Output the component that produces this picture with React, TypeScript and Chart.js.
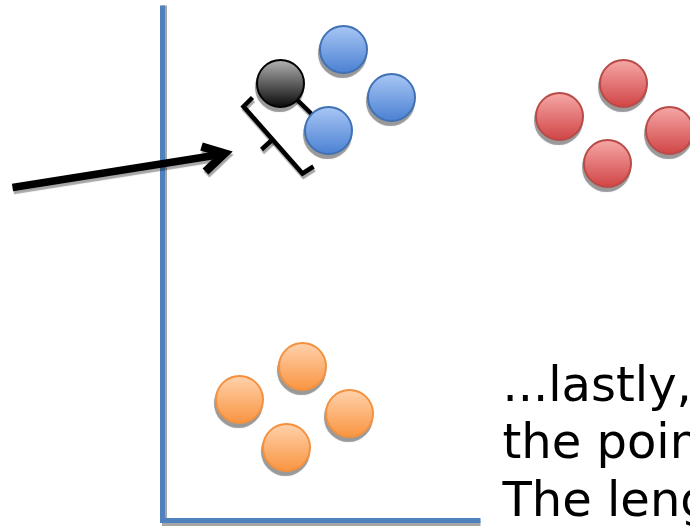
import React, { useEffect, useRef } from "react";
import { Chart, registerables } from "chart.js";

Chart.register(...registerables);

// Data space: origin at the corner of the drawn axes, 1 unit = 10 px
const xRange = [-16.2, 52.8];
const yRange = [-0.9, 52.0];

const bluePoints = [
  { x: 18.1, y: 47.1 },
  { x: 22.9, y: 42.3 },
  { x: 16.6, y: 39.0 },
];
const blackPoints = [{ x: 11.8, y: 43.7 }];
const redPoints = [
  { x: 46.1, y: 43.7 },
  { x: 39.7, y: 40.4 },
  { x: 50.7, y: 39.0 },
  { x: 44.5, y: 35.7 },
];
const orangePoints = [
  { x: 14.0, y: 15.4 },
  { x: 7.7, y: 12.1 },
  { x: 18.7, y: 10.7 },
  { x: 12.4, y: 7.3 },
];
const distanceLine = [
  { x: 11.8, y: 43.7 },
  { x: 16.6, y: 39.0 },
];
const bracketLine = [
  { x: 9.0, y: 42.3 },
  { x: 8.1, y: 41.4 },
  { x: 14.0, y: 34.7 },
  { x: 15.1, y: 35.4 },
];
const bracketTick = [
  { x: 11.0, y: 38.1 },
  { x: 9.9, y: 37.1 },
];
const arrowShaft = [
  { x: -15.0, y: 33.3 },
  { x: 5.8, y: 36.6 },
];
const arrowHead = [
  { x: 3.9, y: 37.4 },
  { x: 6.2, y: 36.7 },
  { x: 4.3, y: 34.9 },
];
const axisYTop = 51.5;
const axisXEnd = 31.8;
const textX = 34.0;
const textLines = ["...lastly,", "the poin", "The leng"];
const textBaselines = [12.0, 6.3, 0.5];

// Chart.js reserves room for the point radius when scales are hidden;
// the canvas is made larger by this amount and shifted so the plot area fills the view.
const PAD = 25.5;
const W = 690;
const H = 529;

const gradientFill = (top: string, bottom: string, fallback: string) => (c: any) => {
  const chart = c.chart;
  if (c.type !== "data" || !chart.chartArea || !chart.scales.y) return fallback;
  const py = chart.scales.y.getPixelForValue(c.parsed ? c.parsed.y : c.raw.y);
  if (!isFinite(py)) return fallback;
  const g = chart.ctx.createLinearGradient(0, py - 24, 0, py + 24);
  g.addColorStop(0, top);
  g.addColorStop(1, bottom);
  return g;
};

const decorPlugin = {
  id: "decor",
  beforeDatasetsDraw(chart: any) {
    const ctx = chart.ctx;
    const xs = chart.scales.x;
    const ys = chart.scales.y;
    const x0 = xs.getPixelForValue(0);
    const y0 = ys.getPixelForValue(0);
    const yt = ys.getPixelForValue(axisYTop);
    const xe = xs.getPixelForValue(axisXEnd);
    ctx.save();
    ctx.lineWidth = 5;
    ctx.lineCap = "butt";
    ctx.strokeStyle = "#a6a6a6";
    ctx.beginPath();
    ctx.moveTo(x0 + 2, yt);
    ctx.lineTo(x0 + 2, y0 + 3);
    ctx.lineTo(xe, y0 + 3);
    ctx.stroke();
    ctx.strokeStyle = "#4f81bd";
    ctx.beginPath();
    ctx.moveTo(x0, yt);
    ctx.lineTo(x0, y0);
    ctx.lineTo(xe, y0);
    ctx.stroke();
    ctx.restore();
  },
  beforeDatasetDraw(chart: any, args: any) {
    const ctx = chart.ctx;
    const ds = chart.data.datasets[args.index];
    if (ds.kind === "point") {
      ctx.save();
      ctx.fillStyle = "rgba(0,0,0,0.33)";
      ctx.shadowColor = "rgba(0,0,0,0.33)";
      ctx.shadowBlur = 2;
      args.meta.data.forEach((el: any) => {
        ctx.beginPath();
        ctx.arc(el.x - 1, el.y + 4, 24.5, 0, Math.PI * 2);
        ctx.fill();
      });
      ctx.restore();
      ctx.save();
    } else {
      ctx.save();
      ctx.shadowColor = "rgba(0,0,0,0.35)";
      ctx.shadowOffsetX = 1;
      ctx.shadowOffsetY = 3;
      ctx.shadowBlur = 1;
    }
  },
  afterDatasetDraw(chart: any) {
    chart.ctx.restore();
  },
  afterDatasetsDraw(chart: any) {
    const ctx = chart.ctx;
    const xs = chart.scales.x;
    const ys = chart.scales.y;
    ctx.save();
    ctx.fillStyle = "#000";
    ctx.font = "48px 'DejaVu Sans'";
    ctx.textBaseline = "alphabetic";
    ctx.textAlign = "left";
    textLines.forEach((t, i) => {
      ctx.fillText(t, xs.getPixelForValue(textX), ys.getPixelForValue(textBaselines[i]));
    });
    ctx.restore();
  },
};

export default function App() {
  const ref = useRef<HTMLCanvasElement | null>(null);
  useEffect(() => {
    if (!ref.current) return;
    const pointDs = (label: string, data: any[], top: string, bottom: string, border: string) => ({
      label,
      kind: "point",
      data,
      pointRadius: 23.5,
      pointHoverRadius: 23.5,
      pointBorderWidth: 2,
      borderWidth: 2,
      pointBackgroundColor: gradientFill(top, bottom, bottom),
      backgroundColor: gradientFill(top, bottom, bottom),
      pointBorderColor: border,
      borderColor: border,
      showLine: false,
      clip: false,
      order: 0,
    });
    const lineDs = (label: string, data: any[], width: number, order: number) => ({
      label,
      kind: "line",
      data,
      showLine: true,
      pointRadius: 0,
      borderColor: "#000",
      backgroundColor: "#000",
      borderWidth: width,
      borderJoinStyle: "miter",
      borderCapStyle: "butt",
      fill: false,
      tension: 0,
      clip: false,
      order,
    });
    const chart = new Chart(ref.current, {
      type: "scatter",
      data: {
        datasets: [
          pointDs("black", blackPoints, "#b4b4b4", "#080808", "#000000"),
          pointDs("blue", bluePoints, "#a9c7f5", "#4a80d2", "#3f71b4"),
          pointDs("red", redPoints, "#f6a8a8", "#d04444", "#b94a48"),
          pointDs("orange", orangePoints, "#ffd2ad", "#f99440", "#f3913f"),
          lineDs("distance", distanceLine, 4.5, 3),
          lineDs("bracket", bracketLine, 4.5, 3),
          lineDs("bracketTick", bracketTick, 4.5, 3),
          lineDs("arrowShaft", arrowShaft, 7.5, 3),
          lineDs("arrowHead", arrowHead, 8.5, 3),
        ] as any,
      },
      options: {
        animation: false,
        responsive: false,
        devicePixelRatio: 1,
        layout: { padding: 0 },
        events: [],
        plugins: { legend: { display: false }, tooltip: { enabled: false } },
        scales: {
          x: { type: "linear", min: xRange[0], max: xRange[1], display: false },
          y: { type: "linear", min: yRange[0], max: yRange[1], display: false },
        },
      } as any,
      plugins: [decorPlugin],
    });
    return () => chart.destroy();
  }, []);
  return (
    <div style={{ position: "absolute", left: 0, top: 0, width: W, height: H, overflow: "hidden", background: "#fff" }}>
      <canvas
        ref={ref}
        width={W + 2 * PAD}
        height={H + 2 * PAD}
        style={{ display: "block", position: "absolute", left: -PAD, top: -PAD }}
      />
    </div>
  );
}
